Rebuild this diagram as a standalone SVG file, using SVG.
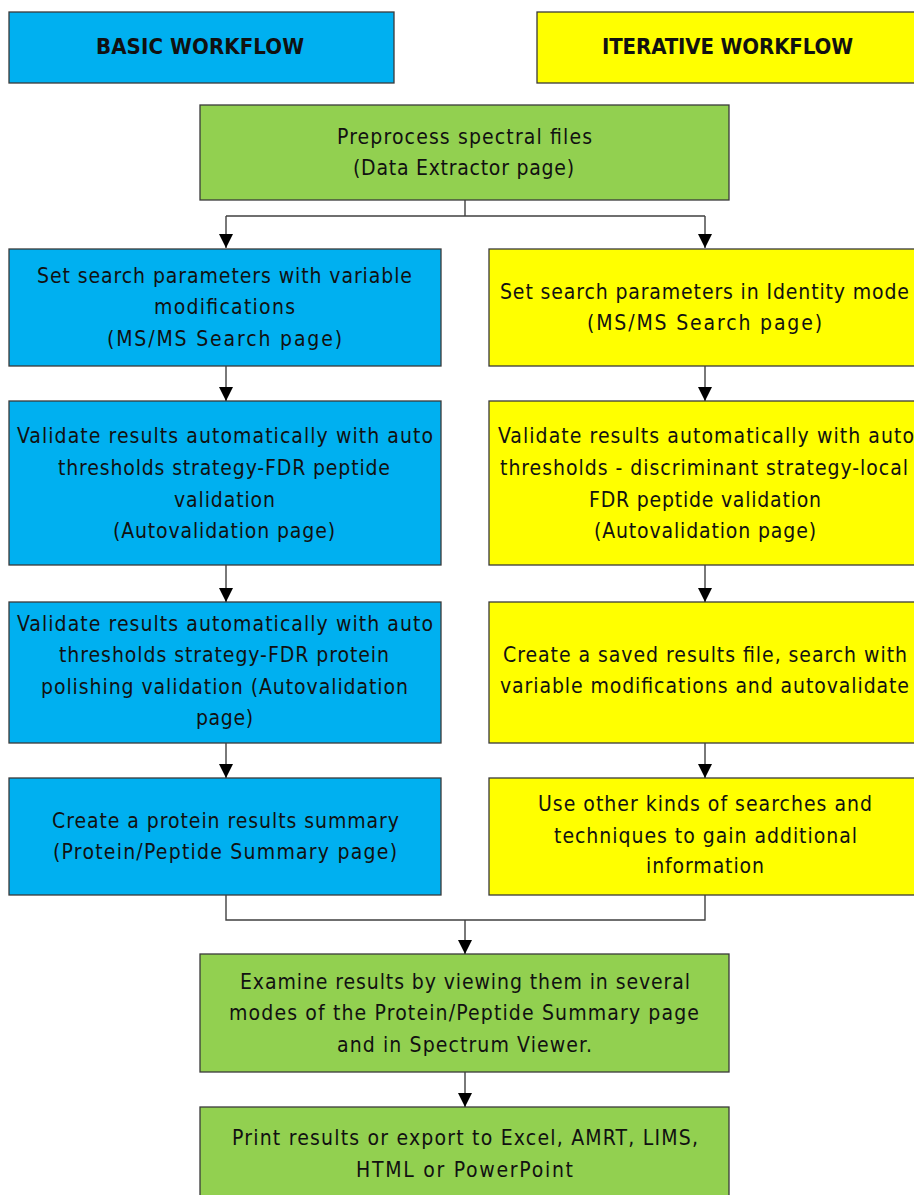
<svg xmlns="http://www.w3.org/2000/svg" width="914" height="1195" viewBox="0 0 914 1195">
<style>
.box{stroke:#3a3a3a;stroke-width:1.3}
.blue{fill:#00B0F0}
.yellow{fill:#FFFF00}
.green{fill:#92D050}
text{font-family:"Liberation Sans Narrow","DejaVu Sans Condensed","Liberation Sans",Arial,sans-serif;font-stretch:condensed;font-size:21px;fill:#111;text-anchor:middle}
.hdr{font-weight:bold;font-size:22px}
.conn{fill:none;stroke:#404040;stroke-width:1.4}
</style>
<defs>
<marker id="arr" markerUnits="userSpaceOnUse" markerWidth="16" markerHeight="16" refX="14" refY="7" orient="auto">
<path d="M0,0 L14,7 L0,14 Z" fill="#000"/>
</marker>
</defs>
<rect width="914" height="1195" fill="#fff"/>
<g id="hdr-basic">
<rect class="box blue" x="9" y="12" width="385" height="71"/>
<text class="hdr" x="200" y="54" textLength="208" lengthAdjust="spacing">BASIC WORKFLOW</text>
</g>
<g id="hdr-iterative">
<rect class="box yellow" x="537" y="12" width="390" height="71"/>
<text class="hdr" x="727.5" y="54" textLength="251" lengthAdjust="spacing">ITERATIVE WORKFLOW</text>
</g>
<g id="preprocess">
<rect class="box green" x="200" y="105" width="529" height="95"/>
<text x="464.5" y="144" textLength="255" lengthAdjust="spacing">Preprocess spectral files</text>
<text x="463.5" y="175" textLength="221" lengthAdjust="spacing">(Data Extractor page)</text>
</g>
<g id="basic-1">
<rect class="box blue" x="9" y="249" width="432" height="117"/>
<text x="224.5" y="283" textLength="375" lengthAdjust="spacing">Set search parameters with variable</text>
<text x="224.5" y="314" textLength="141" lengthAdjust="spacing">modifications</text>
<text x="224.5" y="346" textLength="235" lengthAdjust="spacing">(MS/MS Search page)</text>
</g>
<g id="basic-2">
<rect class="box blue" x="9" y="401" width="432" height="164"/>
<text x="225" y="443" textLength="416" lengthAdjust="spacing">Validate results automatically with auto</text>
<text x="224" y="475" textLength="332" lengthAdjust="spacing">thresholds strategy-FDR peptide</text>
<text x="224.5" y="507" textLength="101" lengthAdjust="spacing">validation</text>
<text x="224" y="538" textLength="222" lengthAdjust="spacing">(Autovalidation page)</text>
</g>
<g id="basic-3">
<rect class="box blue" x="9" y="602" width="432" height="141"/>
<text x="225" y="631" textLength="416" lengthAdjust="spacing">Validate results automatically with auto</text>
<text x="224" y="662" textLength="330" lengthAdjust="spacing">thresholds strategy-FDR protein</text>
<text x="224.5" y="694" textLength="367" lengthAdjust="spacing">polishing validation (Autovalidation</text>
<text x="224.5" y="725" textLength="57" lengthAdjust="spacing">page)</text>
</g>
<g id="basic-4">
<rect class="box blue" x="9" y="778" width="432" height="117"/>
<text x="225.5" y="828" textLength="347" lengthAdjust="spacing">Create a protein results summary</text>
<text x="225" y="859" textLength="344" lengthAdjust="spacing">(Protein/Peptide Summary page)</text>
</g>
<g id="iter-1">
<rect class="box yellow" x="489" y="249" width="440" height="117"/>
<text x="704.5" y="299" textLength="409" lengthAdjust="spacing">Set search parameters in Identity mode</text>
<text x="704.5" y="330" textLength="235" lengthAdjust="spacing">(MS/MS Search page)</text>
</g>
<g id="iter-2">
<rect class="box yellow" x="489" y="401" width="440" height="164"/>
<text x="706" y="443" textLength="416" lengthAdjust="spacing">Validate results automatically with auto</text>
<text x="704" y="475" textLength="408" lengthAdjust="spacing">thresholds - discriminant strategy-local</text>
<text x="705" y="507" textLength="232" lengthAdjust="spacing">FDR peptide validation</text>
<text x="705" y="538" textLength="222" lengthAdjust="spacing">(Autovalidation page)</text>
</g>
<g id="iter-3">
<rect class="box yellow" x="489" y="602" width="440" height="141"/>
<text x="705" y="662" textLength="404" lengthAdjust="spacing">Create a saved results file, search with</text>
<text x="704.5" y="693" textLength="409" lengthAdjust="spacing">variable modifications and autovalidate</text>
</g>
<g id="iter-4">
<rect class="box yellow" x="489" y="778" width="440" height="117"/>
<text x="705" y="811" textLength="334" lengthAdjust="spacing">Use other kinds of searches and</text>
<text x="705.5" y="843" textLength="303" lengthAdjust="spacing">techniques to gain additional</text>
<text x="705" y="873" textLength="118" lengthAdjust="spacing">information</text>
</g>
<g id="examine">
<rect class="box green" x="200" y="954" width="529" height="118"/>
<text x="465" y="989" textLength="450" lengthAdjust="spacing">Examine results by viewing them in several</text>
<text x="464" y="1020" textLength="470" lengthAdjust="spacing">modes of the Protein/Peptide Summary page</text>
<text x="464.5" y="1052" textLength="255" lengthAdjust="spacing">and in Spectrum Viewer.</text>
</g>
<g id="export">
<rect class="box green" x="200" y="1107" width="529" height="100"/>
<text x="465" y="1145" textLength="466" lengthAdjust="spacing">Print results or export to Excel, AMRT, LIMS,</text>
<text x="464.5" y="1177" textLength="217" lengthAdjust="spacing">HTML or PowerPoint</text>
</g>
<g id="connectors">
<path class="conn" d="M465,200 V216 M226,216 H705"/>
<path class="conn" d="M226,216 V248" marker-end="url(#arr)"/>
<path class="conn" d="M705,216 V248" marker-end="url(#arr)"/>
<path class="conn" d="M226,366 V401" marker-end="url(#arr)"/>
<path class="conn" d="M226,565 V602" marker-end="url(#arr)"/>
<path class="conn" d="M226,743 V778" marker-end="url(#arr)"/>
<path class="conn" d="M705,366 V401" marker-end="url(#arr)"/>
<path class="conn" d="M705,565 V602" marker-end="url(#arr)"/>
<path class="conn" d="M705,743 V778" marker-end="url(#arr)"/>
<path class="conn" d="M226,895 V920 H705 V895"/>
<path class="conn" d="M465,920 V954" marker-end="url(#arr)"/>
<path class="conn" d="M465,1072 V1107" marker-end="url(#arr)"/>
</g>
</svg>
